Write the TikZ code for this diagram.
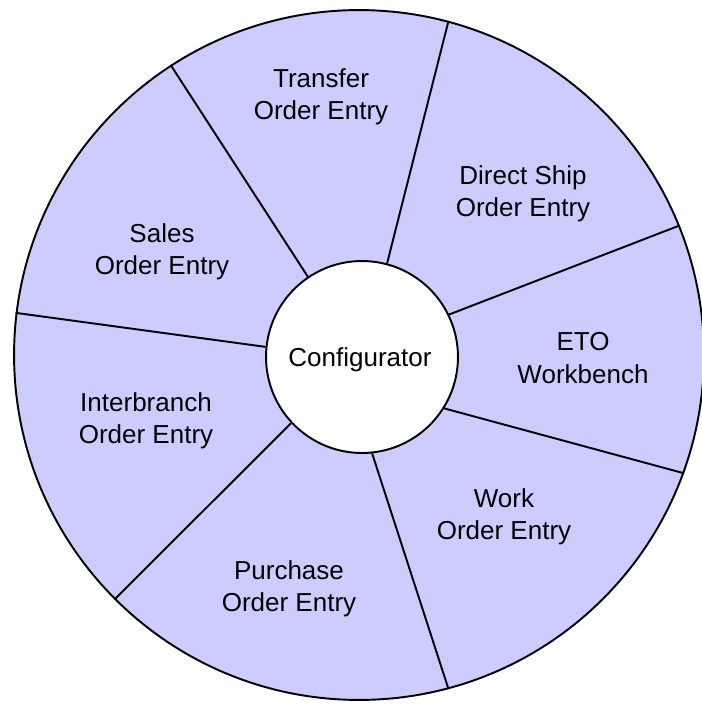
\documentclass[tikz,border=0pt]{standalone}
\usepackage{fontspec}
\setmainfont{Liberation Sans}
\usepackage{xcolor}
\definecolor{wheelfill}{HTML}{CCCCFF}
\tikzset{
  rim/.style={circle, draw, line width=1.1pt, inner sep=0pt},
  slice/.style={align=center, inner sep=1pt}
}

\begin{document}
\begin{tikzpicture}[x=0.02cm, y=-0.02cm, font=\fontsize{14.8}{18.5}\selectfont]
  \useasboundingbox (0,0) rectangle (701,704);
  \node[rim, fill=wheelfill, minimum size=13.8cm] (wheel) at (359,355) {};
  \node[rim, fill=white, minimum size=3.84cm] (config) at (362,357) {};
  \node[slice] (configtext) at (360,360) {Configurator};

  % spokes: inner angle / outer angle
  \foreach \a/\b in {124/123.3, 75.3/75, 26.6/22.9, -32.4/-20.7, -84.1/-75.2, 223.3/225, 174.6/173}
    \draw[line width=1.1pt] (config.\a) -- (wheel.\b);

  \node[slice] (transfer) at (321,97) {Transfer\\Order Entry};
  \node[slice] (direct) at (523,194) {Direct Ship\\Order Entry};
  \node[slice] (eto) at (583,358) {ETO\\Workbench};
  \node[slice] (work) at (504,517) {Work\\Order Entry};
  \node[slice] (purchase) at (289,589) {Purchase\\Order Entry};
  \node[slice] (interbranch) at (146,421) {Interbranch\\Order Entry};
  \node[slice] (sales) at (162,252) {Sales\\Order Entry};
\end{tikzpicture}
\end{document}
